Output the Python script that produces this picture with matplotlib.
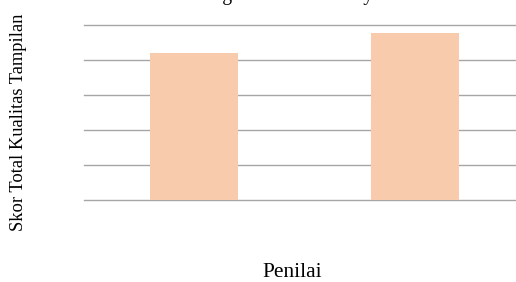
import matplotlib.pyplot as plt

# data (tick labels are cropped away, so the scale is a guess)
penilai = ['Penilai 1', 'Penilai 2']
skor = [42.0, 47.6]
grid_ticks = [0, 10, 20, 30, 40, 50]

plt.rcParams['font.family'] = ['Liberation Serif', 'DejaVu Serif']

fig = plt.figure(figsize=(5.16, 2.82), dpi=100)
ax = fig.add_axes([84/516, 1 - 199.5/282, 1 - 84/516, (199.5 - 25)/282])

x = range(len(penilai))
ax.bar(x, skor, width=0.4, color='#F8CBAD', zorder=2)

ax.set_ylim(0, 50)
ax.set_xlim(-0.5, 1.46)
ax.set_yticks(grid_ticks)
ax.yaxis.grid(True, color='#a6a6a6', linewidth=1.0, zorder=0)
for gl in ax.get_ygridlines():
    gl.set_clip_on(False)
ax.tick_params(left=False, bottom=False, labelleft=False, labelbottom=False)
for s in ax.spines.values():
    s.set_visible(False)

# labels sit outside the axes box
fig.text(19/516, 1 - 122/282, 'Skor Total Kualitas Tampilan', rotation=90,
         ha='center', va='center', fontsize=13.3)
fig.text(292.5/516, 1 - 277/282, 'Penilai', ha='center', va='baseline', fontsize=15.5)

# title is cut off at the top of the picture, only the descenders show
fig.text(291/516, 1.0, 'Pengaruh Kualitas Layar',
         ha='center', va='baseline', fontsize=14.1)

fig.savefig('out.png', dpi=100)
